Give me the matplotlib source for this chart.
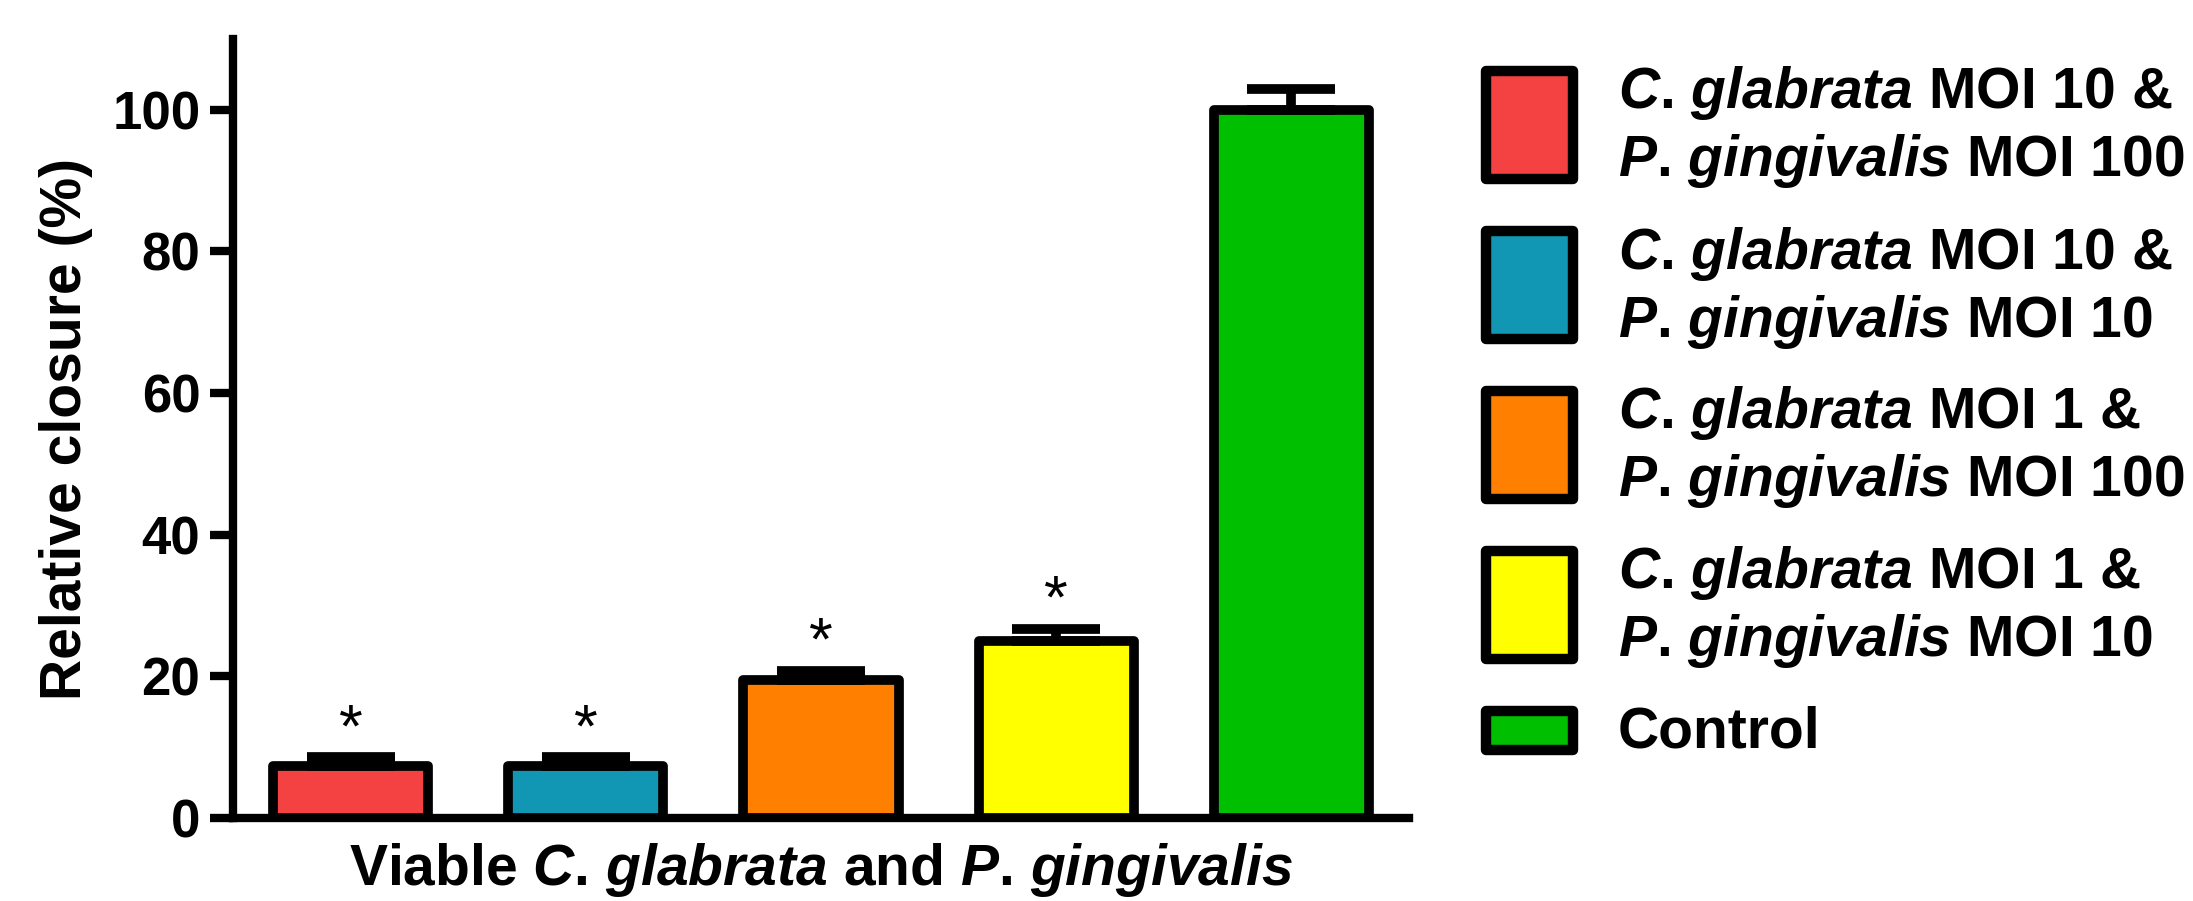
import matplotlib
matplotlib.use("Agg")
import matplotlib.pyplot as plt
from matplotlib.patches import Rectangle
from matplotlib.transforms import Affine2D

plt.rcParams["font.family"] = ["Liberation Sans", "DejaVu Sans"]
plt.rcParams["font.weight"] = "bold"
plt.rcParams["axes.labelweight"] = "bold"
plt.rcParams["mathtext.fontset"] = "custom"
plt.rcParams["mathtext.rm"] = "Liberation Sans:bold"
plt.rcParams["mathtext.it"] = "Liberation Sans:italic:bold"
plt.rcParams["mathtext.bf"] = "Liberation Sans:bold"

# species names in italics (period kept outside math to avoid punctuation spacing)
CG = "$\\mathit{C}$. $\\mathit{glabrata}$"
PG = "$\\mathit{P}$. $\\mathit{gingivalis}$"

# wound closure relative to the uninfected control
groups = [
    CG + " MOI 10 &\n" + PG + " MOI 100",
    CG + " MOI 10 &\n" + PG + " MOI 10",
    CG + " MOI 1 &\n" + PG + " MOI 100",
    CG + " MOI 1 &\n" + PG + " MOI 10",
    "Control",
]
closure = [7.3, 7.3, 19.5, 25.0, 100.0]
sem = [1.3, 1.3, 1.3, 1.7, 3.0]
significant = [True, True, True, True, False]
colors = ["#F44242", "#1197B3", "#FF8000", "#FFFF00", "#00BE00"]

W, H = 2193, 901
fig = plt.figure(figsize=(W / 100, H / 100), dpi=100)
ax = fig.add_axes([233 / W, 1 - 818 / H, (1409 - 233) / W, (818 - 39) / H])

x = list(range(len(closure)))
ax.bar(x, closure, width=0.66, color=colors, edgecolor="black",
       linewidth=7, joinstyle="round", zorder=2)
ax.errorbar(x, closure, yerr=[[0] * len(sem), sem], fmt="none",
            ecolor="black", elinewidth=7, capsize=32, capthick=7, zorder=3)

for xi, v, e, sig in zip(x, closure, sem, significant):
    if sig:
        ax.annotate("*", xy=(xi, v + e), xytext=(0, 8), textcoords="offset points",
                    ha="center", va="baseline", fontsize=44, fontweight="normal")

ax.set_xlim(-0.5, 4.5)
ax.set_ylim(0, 110)
ax.set_yticks([0, 20, 40, 60, 80, 100])
ax.tick_params(axis="y", length=16.5, width=6, pad=7, labelsize=38)
ax.tick_params(axis="x", bottom=False, labelbottom=False)
for side in ["top", "right"]:
    ax.spines[side].set_visible(False)
for side in ["left", "bottom"]:
    ax.spines[side].set_linewidth(6)

ax.set_ylabel("Relative closure (%)", fontsize=41, labelpad=14)
ax.set_xlabel("Viable " + CG + " and " + PG, fontsize=41)
ax.xaxis.label.set_va("baseline")
ax.xaxis.set_label_coords(0.5, (818 - 885) / (818 - 39))

# legend laid out by hand in pixel units (origin top-left)
px = Affine2D().scale(1 / W, -1 / H).translate(0, 1) + fig.transFigure
centers = [124.5, 285, 444.5, 604.5, 730]
for label, col, c in zip(groups, colors, centers):
    lines = label.split("\n")
    h = 108 if len(lines) > 1 else 39
    fig.add_artist(Rectangle((1529 - 43.5, c - h / 2), 87, h, facecolor=col,
                             edgecolor="black", linewidth=7.5, joinstyle="round",
                             transform=px))
    for k, line in enumerate(lines):
        base = c - (len(lines) - 1) * 34 + 18 + k * 68
        fig.text(1618, base, line, transform=px, ha="left", va="baseline", fontsize=41)

fig.savefig("out.png", dpi=100)
